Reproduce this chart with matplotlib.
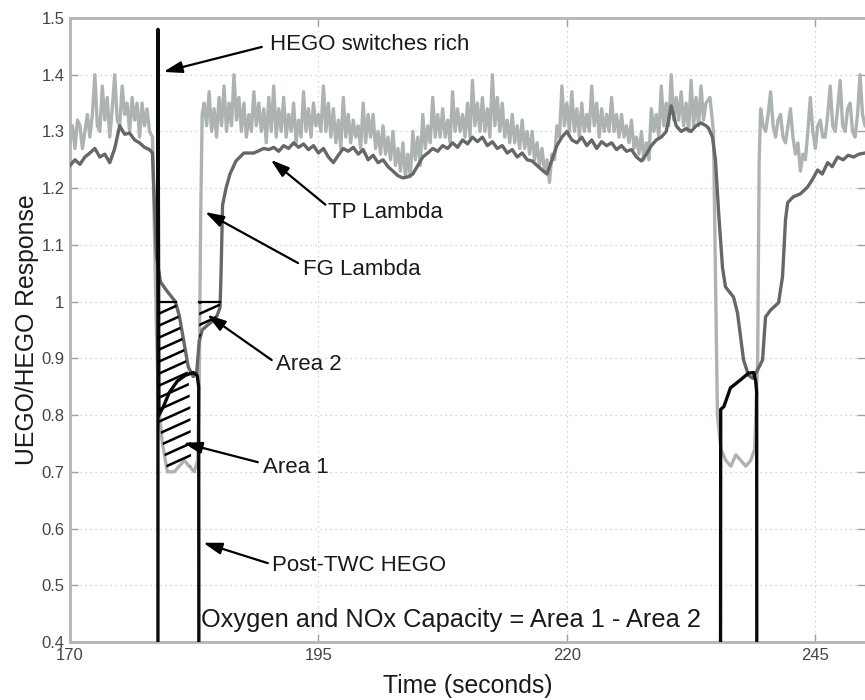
import numpy as np
import matplotlib
matplotlib.use("Agg")
import matplotlib.pyplot as plt
from matplotlib.patches import Polygon

# ---------------- data ----------------
# Feed-gas (FG) lambda, light trace
fg_pre = [1.28, 1.31, 1.27, 1.32, 1.31, 1.27, 1.30, 1.33,
          1.29, 1.33, 1.40, 1.31, 1.30, 1.38, 1.32, 1.36,
          1.29, 1.34, 1.40, 1.32, 1.31, 1.38, 1.33, 1.35,
          1.30, 1.36, 1.32, 1.35, 1.29, 1.35, 1.31, 1.34,
          1.30]                                                # 170.0 .. 178.0, 0.25 s
fg_rich1_t = [178.3, 178.5, 178.7, 178.9, 179.3, 179.8, 180.5, 181.0, 181.5, 182.0,
              182.5, 182.85, 183.0, 183.15, 183.3]
fg_rich1 = [1.29, 1.12, 0.95, 0.82, 0.75, 0.70, 0.70, 0.71, 0.72, 0.71,
            0.70, 0.72, 0.85, 1.15, 1.33]
fg_mid = [1.35, 1.31, 1.37, 1.30, 1.34, 1.29, 1.36, 1.31,
          1.38, 1.30, 1.35, 1.31, 1.40, 1.32, 1.36, 1.30,
          1.35, 1.29, 1.33, 1.30, 1.37, 1.31, 1.35, 1.30,
          1.34, 1.28, 1.36, 1.30, 1.38, 1.29, 1.34, 1.30,
          1.36, 1.29, 1.33, 1.30, 1.35, 1.28, 1.32, 1.29,
          1.37, 1.30, 1.34, 1.29, 1.35, 1.31, 1.33, 1.30,
          1.38, 1.30, 1.35, 1.29, 1.34, 1.28, 1.32, 1.27,
          1.36, 1.29, 1.33, 1.28, 1.32, 1.29, 1.31, 1.27,
          1.35, 1.28, 1.33, 1.29, 1.33, 1.27, 1.30, 1.26,
          1.31, 1.26, 1.29, 1.25, 1.30, 1.24, 1.27, 1.23,
          1.28, 1.22, 1.26, 1.22, 1.30, 1.25, 1.29, 1.24,
          1.33, 1.27, 1.31, 1.28, 1.36, 1.29, 1.33, 1.29,
          1.34, 1.29, 1.32, 1.28, 1.37, 1.30, 1.34, 1.30,
          1.33, 1.29, 1.35, 1.29, 1.39, 1.31, 1.35, 1.30,
          1.36, 1.30, 1.34, 1.29, 1.40, 1.31, 1.36, 1.30,
          1.35, 1.29, 1.32, 1.28, 1.33, 1.28, 1.31, 1.27,
          1.32, 1.27, 1.30, 1.26, 1.30, 1.25, 1.28, 1.24,
          1.27, 1.23, 1.25, 1.21, 1.26, 1.25, 1.31, 1.29,
          1.38, 1.31, 1.35, 1.30, 1.37, 1.30, 1.34, 1.29,
          1.35, 1.30, 1.33, 1.30, 1.38, 1.31, 1.35, 1.29,
          1.34, 1.30, 1.33, 1.30, 1.36, 1.30, 1.33, 1.29,
          1.33, 1.29, 1.31, 1.28, 1.32, 1.27, 1.29, 1.26,
          1.30, 1.25, 1.28, 1.25, 1.34, 1.30, 1.33, 1.29,
          1.38, 1.31, 1.35, 1.31, 1.40, 1.32, 1.36, 1.32,
          1.37, 1.31, 1.35, 1.30, 1.39, 1.31, 1.36, 1.31,
          1.38, 1.32, 1.35]                                    # from 183.5, 0.25 s
fg_rich2_t = [234.4, 234.75, 234.95, 235.15, 235.5, 236.0, 236.5, 237.0, 237.5,
              238.0, 238.5, 238.9, 239.2, 239.35]
fg_rich2 = [1.36, 1.30, 1.05, 0.80, 0.74, 0.72, 0.71, 0.73, 0.72,
            0.71, 0.72, 0.74, 0.90, 1.25]
fg_post = [1.34, 1.31, 1.30, 1.33, 1.37, 1.31, 1.29, 1.32,
           1.33, 1.29, 1.28, 1.31, 1.34, 1.29, 1.26, 1.28,
           1.23, 1.26, 1.25, 1.30, 1.36, 1.30, 1.27, 1.31,
           1.32, 1.29, 1.29, 1.33, 1.38, 1.31, 1.30, 1.34,
           1.39, 1.31, 1.30, 1.34, 1.35, 1.30, 1.29, 1.33,
           1.40, 1.33, 1.31]                                   # from 239.5, 0.25 s

# Tail-pipe (TP) lambda, dark trace
tp_pre = [1.24, 1.25, 1.242, 1.255, 1.262, 1.27, 1.255, 1.26, 1.245, 1.27, 1.31,
          1.295, 1.297, 1.285, 1.28, 1.272, 1.268]             # 170.0 .. 178.0, 0.5 s
tp_rich1_t = [178.3, 178.5, 178.7, 179.1, 179.7, 180.6, 181.0, 181.5, 181.9, 182.4,
              182.75, 183.0, 183.3, 183.8, 184.3, 184.8, 185.1, 185.2, 185.35,
              185.7, 186.1, 186.7, 187.5, 188.5, 189.5]
tp_rich1 = [1.262, 1.17, 1.08, 1.035, 1.02, 1.0, 0.975, 0.925, 0.885, 0.868,
            0.875, 0.93, 0.95, 0.958, 0.965, 0.975, 0.99, 1.05, 1.17,
            1.20, 1.225, 1.248, 1.262, 1.262, 1.27]
tp_mid = [1.268, 1.272, 1.265, 1.275, 1.27, 1.28, 1.272, 1.278, 1.268, 1.275,
          1.262, 1.27, 1.255, 1.245, 1.258, 1.27, 1.265, 1.272, 1.26, 1.268,
          1.25, 1.258, 1.245, 1.25, 1.238, 1.23, 1.222, 1.218, 1.22, 1.225,
          1.24, 1.255, 1.262, 1.27, 1.265, 1.275, 1.27, 1.28, 1.272, 1.285,
          1.278, 1.29, 1.282, 1.29, 1.275, 1.282, 1.27, 1.275, 1.262, 1.268,
          1.255, 1.262, 1.25, 1.248, 1.24, 1.232, 1.225, 1.25, 1.275, 1.29,
          1.30, 1.285, 1.28, 1.29, 1.275, 1.285, 1.27, 1.282, 1.275, 1.28,
          1.268, 1.275, 1.265, 1.268, 1.255, 1.248, 1.26, 1.275, 1.285, 1.29,
          1.30, 1.345, 1.31, 1.30, 1.305, 1.30, 1.31, 1.315, 1.31]  # from 190.0, 0.5 s
tp_rich2_t = [234.25, 234.65, 234.95, 235.26, 235.66, 235.96, 236.77, 237.17,
              237.78, 238.28, 238.7, 239.2, 239.69, 239.99, 240.49, 241.3, 241.7,
              242.0, 242.21, 242.51, 242.81, 243.5, 244.22, 244.7, 245.23, 245.7,
              246.24, 246.7, 247.24, 247.8, 248.3, 248.85, 249.4, 250.0]
tp_rich2 = [1.306, 1.29, 1.25, 1.16, 1.06, 1.026, 1.008, 0.98,
            0.897, 0.87, 0.865, 0.88, 0.897, 0.973, 0.985, 0.998, 1.044,
            1.144, 1.174, 1.18, 1.185, 1.19, 1.202, 1.215, 1.232, 1.225,
            1.245, 1.238, 1.255, 1.25, 1.258, 1.255, 1.26, 1.262]

# Post-TWC HEGO voltage
hego_t = [170.0, 178.85, 178.85, 178.95, 179.4, 180.0, 180.8, 181.6, 182.4, 182.8,
          182.95, 182.98, 235.45, 235.48, 235.8, 236.46, 237.47, 238.28, 238.8,
          239.0, 239.1, 239.12, 250.0]
hego_v = [0.05, 0.05, 1.48, 0.80, 0.815, 0.84, 0.86, 0.87, 0.875, 0.87,
          0.85, 0.05, 0.05, 0.81, 0.815, 0.848, 0.862, 0.874, 0.875,
          0.86, 0.84, 0.05, 0.05]

# Outline of the hatched region "Area 1"
area1_t = [178.85, 180.65, 181.4, 181.9, 182.1, 182.2, 179.8, 178.85]
area1_v = [1.0, 1.0, 0.925, 0.87, 0.82, 0.71, 0.70, 0.80]
# Time window of "Area 2" (between TP lambda and stoichiometry)
area2_window = (183.0, 185.1)
stoich = 1.0

x_ticks = [170, 195, 220, 245]
y_ticks = [0.4, 0.5, 0.6, 0.7, 0.8, 0.9, 1.0, 1.1, 1.2, 1.3, 1.4, 1.5]

# ---------------- assemble series ----------------
fg_t = np.concatenate([170 + 0.25 * np.arange(len(fg_pre)), fg_rich1_t,
                       183.5 + 0.25 * np.arange(len(fg_mid)), fg_rich2_t,
                       239.5 + 0.25 * np.arange(len(fg_post))])
fg_v = np.concatenate([fg_pre, fg_rich1, fg_mid, fg_rich2, fg_post])
tp_t = np.concatenate([170 + 0.5 * np.arange(len(tp_pre)), tp_rich1_t,
                       190.0 + 0.5 * np.arange(len(tp_mid)), tp_rich2_t])
tp_v = np.concatenate([tp_pre, tp_rich1, tp_mid, tp_rich2])

# ---------------- figure ----------------
plt.rcParams['font.family'] = ['Liberation Sans', 'DejaVu Sans']
fig = plt.figure(figsize=(8.65, 7.0), dpi=100)
ax = fig.add_axes([70 / 865, 58 / 700, 795 / 865, 624 / 700])
ax.set_xlim(170, 250)
ax.set_ylim(0.4, 1.5)

ax.grid(True, color='#c8c8c8', linestyle=(0, (1, 3)), linewidth=0.9)
ax.set_axisbelow(True)
for side in ['top', 'left', 'bottom']:
    ax.spines[side].set_color('#b4b4b4')
    ax.spines[side].set_linewidth(2.0)
ax.spines['right'].set_visible(False)

ax.set_xticks(x_ticks)
ax.set_yticks(y_ticks)
ax.set_yticklabels(['%g' % v for v in y_ticks])
ax.tick_params(direction='in', length=6, width=1, color='#a0a0a0',
               top=True, right=True, labelsize=12, labelcolor='#444444', pad=4)

ax.plot(fg_t, fg_v, color='#adb3b3', lw=2.4, zorder=3)
ax.plot(tp_t, tp_v, color='#676767', lw=2.4, zorder=4)
ax.plot(hego_t, hego_v, color='#0a0a0a', lw=2.4, zorder=5)


def hatch_region(poly_t, poly_v, spacing_px=12, slope=0.45):
    patch = Polygon(np.column_stack([poly_t, poly_v]), closed=True,
                    facecolor='none', edgecolor='none')
    ax.add_patch(patch)
    fig.canvas.draw()
    pix = ax.transData.transform(np.column_stack([poly_t, poly_v]))
    x0, x1 = pix[:, 0].min() - 5, pix[:, 0].max() + 5
    y0, y1 = pix[:, 1].min() - 5, pix[:, 1].max() + 5
    inv = ax.transData.inverted()
    c = y0 - slope * (x1 - x0)
    while c < y1 + 5:
        seg = np.array([[x0, c], [x1, c + slope * (x1 - x0)]])
        d = inv.transform(seg)
        ln, = ax.plot(d[:, 0], d[:, 1], color='black', lw=1.8, zorder=6)
        ln.set_clip_path(patch)
        c += spacing_px


hatch_region(area1_t, area1_v)
ax.plot([area1_t[0], area1_t[1]], [stoich, stoich], color='black', lw=1.6, zorder=6)

w = np.linspace(area2_window[0], area2_window[1], 30)
a2_t = np.concatenate([w, w[::-1]])
a2_v = np.concatenate([np.full_like(w, stoich), np.interp(w[::-1], tp_t, tp_v)])
hatch_region(a2_t, a2_v, spacing_px=11)
ax.plot(area2_window, [stoich, stoich], color='black', lw=1.6, zorder=6)

arrow_kw = dict(arrowstyle='-|>,head_length=0.7,head_width=0.22', color='black',
                lw=1.6, mutation_scale=16, shrinkA=0, shrinkB=0)
notes = [
    ('HEGO switches rich', (190.1, 1.453), (189.3, 1.449), (179.4, 1.405)),
    ('TP Lambda', (196.0, 1.158), (195.7, 1.171), (190.2, 1.25)),
    ('FG Lambda', (193.4, 1.056), (192.95, 1.068), (183.6, 1.158)),
    ('Area 2', (190.75, 0.889), (190.3, 0.897), (183.8, 0.977)),
    ('Area 1', (189.45, 0.707), (188.9, 0.717), (181.4, 0.751)),
    ('Post-TWC HEGO', (190.3, 0.534), (189.9, 0.539), (183.4, 0.575)),
]
for txt, pos, tail, tip in notes:
    ax.annotate('', xy=tip, xytext=tail, arrowprops=arrow_kw, zorder=7)
    ax.text(pos[0], pos[1], txt, fontsize=16, color='#1a1a1a',
            ha='left', va='center', zorder=7)

ax.text(183.2, 0.439, 'Oxygen and NOx Capacity = Area 1 - Area 2', fontsize=18.3,
        color='#1a1a1a', ha='left', va='center', zorder=7)

ax.set_xlabel('Time (seconds)', fontsize=17.8, color='#1a1a1a', labelpad=8)
ax.set_ylabel('UEGO/HEGO Response', fontsize=17.8, color='#1a1a1a', labelpad=2)

fig.savefig('out.png', dpi=100)
